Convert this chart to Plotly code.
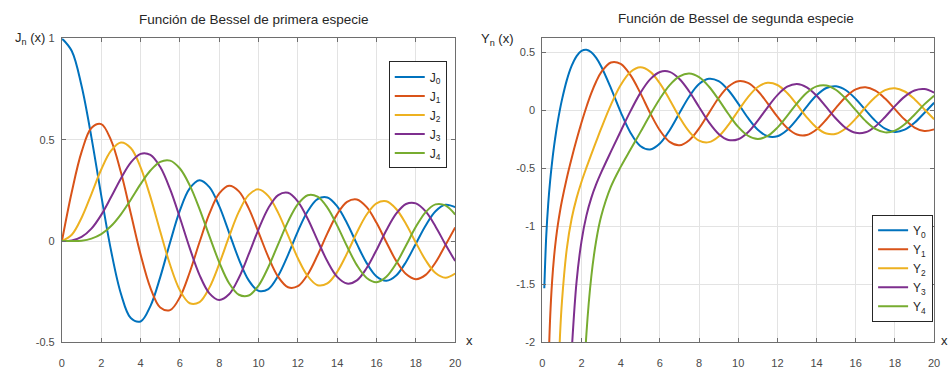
import plotly.graph_objects as go

# Bessel functions of the first kind, J_0 .. J_4, sampled every 0.5 on [0, 20]
x_j = [i * 0.5 for i in range(41)]
j0 = [1.000, 0.938, 0.765, 0.512, 0.224, -0.048, -0.260, -0.380, -0.397, -0.321,
      -0.178, -0.007, 0.151, 0.260, 0.300, 0.266, 0.172, 0.042, -0.090, -0.194,
      -0.246, -0.237, -0.171, -0.068, 0.048, 0.147, 0.207, 0.215, 0.171, 0.088,
      -0.014, -0.109, -0.175, -0.196, -0.170, -0.103, -0.013, 0.077, 0.147, 0.179, 0.167]
j1 = [0.000, 0.242, 0.440, 0.558, 0.577, 0.497, 0.339, 0.137, -0.066, -0.231,
      -0.328, -0.341, -0.277, -0.154, -0.005, 0.135, 0.235, 0.273, 0.245, 0.161,
      0.043, -0.079, -0.177, -0.228, -0.223, -0.165, -0.070, 0.038, 0.133, 0.193,
      0.205, 0.167, 0.090, -0.006, -0.098, -0.163, -0.188, -0.167, -0.106, -0.021, 0.067]
j2 = [0.000, 0.031, 0.115, 0.232, 0.353, 0.446, 0.486, 0.459, 0.364, 0.218,
      0.047, -0.117, -0.243, -0.307, -0.301, -0.230, -0.113, 0.022, 0.145, 0.228,
      0.255, 0.222, 0.139, 0.028, -0.085, -0.173, -0.218, -0.209, -0.152, -0.061,
      0.042, 0.131, 0.186, 0.196, 0.158, 0.084, -0.008, -0.095, -0.158, -0.181, -0.160]
j3 = [0.000, 0.003, 0.020, 0.061, 0.129, 0.217, 0.309, 0.387, 0.430, 0.425,
      0.365, 0.256, 0.115, -0.035, -0.168, -0.258, -0.291, -0.263, -0.181, -0.065,
      0.058, 0.163, 0.227, 0.238, 0.195, 0.110, 0.003, -0.100, -0.177, -0.210,
      -0.194, -0.133, -0.044, 0.053, 0.135, 0.183, 0.186, 0.146, 0.072, -0.016, -0.099]
j4 = [0.000, 0.000, 0.002, 0.012, 0.034, 0.074, 0.132, 0.204, 0.281, 0.348,
      0.391, 0.397, 0.358, 0.275, 0.158, 0.024, -0.105, -0.208, -0.265, -0.269,
      -0.220, -0.128, -0.015, 0.096, 0.182, 0.226, 0.219, 0.165, 0.076, -0.026,
      -0.119, -0.182, -0.203, -0.176, -0.111, -0.022, 0.070, 0.143, 0.181, 0.176, 0.131]

# Bessel functions of the second kind, Y_0 .. Y_4 (None = far below the axis)
x_y = ([0.1, 0.2, 0.3, 0.4, 0.5, 0.6, 0.7, 0.8, 0.9, 1.0,
        1.25, 1.5, 1.75, 2.0, 2.25, 2.5, 2.75, 3.0]
       + [3.5 + 0.5 * i for i in range(34)])
y0 = [-1.534, -1.081, -0.807, -0.606, -0.445, -0.309, -0.191, -0.087, 0.006, 0.088,
      0.258, 0.382, 0.465, 0.510, 0.520, 0.498, 0.449, 0.377,
      0.189, -0.017, -0.195, -0.309, -0.339, -0.288, -0.173, -0.026, 0.117, 0.224,
      0.270, 0.250, 0.171, 0.056, -0.068, -0.169, -0.225, -0.225, -0.171, -0.078,
      0.030, 0.127, 0.190, 0.205, 0.171, 0.096, 0.000, -0.093, -0.160, -0.188,
      -0.169, -0.110, -0.025, 0.063]
y1 = [None, None, -2.293, -1.781, -1.471, -1.260, -1.103, -0.978, -0.873, -0.781,
      -0.584, -0.412, -0.254, -0.107, 0.027, 0.146, 0.246, 0.325,
      0.410, 0.398, 0.301, 0.148, -0.024, -0.175, -0.274, -0.303, -0.259, -0.158,
      -0.026, 0.104, 0.203, 0.249, 0.234, 0.164, 0.058, -0.057, -0.154, -0.210,
      -0.214, -0.167, -0.081, 0.021, 0.115, 0.178, 0.196, 0.167, 0.099, 0.008,
      -0.082, -0.150, -0.180, -0.166]
y2 = [None, None, None, None, None, None, -2.961, -2.359, -1.946, -1.651,
      -1.193, -0.932, -0.756, -0.617, -0.496, -0.381, -0.270, -0.160,
      0.045, 0.216, 0.328, 0.368, 0.331, 0.230, 0.089, -0.061, -0.186, -0.263,
      -0.276, -0.227, -0.128, -0.006, 0.112, 0.199, 0.235, 0.216, 0.147, 0.046,
      -0.062, -0.151, -0.201, -0.203, -0.156, -0.074, 0.024, 0.112, 0.172, 0.188,
      0.160, 0.094, 0.007, -0.079]
y3 = [None, None, None, None, None, None, None, None, None, None,
      None, -2.074, -1.473, -1.128, -0.909, -0.756, -0.638, -0.539,
      -0.358, -0.182, -0.009, 0.146, 0.264, 0.328, 0.329, 0.268, 0.160, 0.027,
      -0.104, -0.205, -0.257, -0.251, -0.191, -0.091, 0.024, 0.129, 0.201, 0.224,
      0.196, 0.124, 0.025, -0.075, -0.155, -0.196, -0.191, -0.141, -0.059, 0.034,
      0.116, 0.169, 0.181, 0.150]
y4 = [None, None, None, None, None, None, None, None, None, None,
      None, None, None, -2.766, -1.928, -1.433, -1.123, -0.917,
      -0.660, -0.489, -0.340, -0.192, -0.042, 0.098, 0.215, 0.290, 0.314, 0.283,
      0.203, 0.090, -0.034, -0.145, -0.221, -0.249, -0.223, -0.151, -0.050, 0.058,
      0.149, 0.204, 0.212, 0.173, 0.096, 0.000, -0.093, -0.162, -0.192, -0.177,
      -0.122, -0.040, 0.049, 0.124]

j_series = [j0, j1, j2, j3, j4]
y_series = [y0, y1, y2, y3, y4]
j_names = ["J<sub>0</sub>", "J<sub>1</sub>", "J<sub>2</sub>", "J<sub>3</sub>", "J<sub>4</sub>"]
y_names = ["Y<sub>0</sub>", "Y<sub>1</sub>", "Y<sub>2</sub>", "Y<sub>3</sub>", "Y<sub>4</sub>"]
colors = ["#0072BD", "#D95319", "#EDB120", "#7E2F8E", "#77AC30"]

x_ticks = list(range(0, 21, 2))
j_ticks = [-0.5, 0, 0.5, 1]
j_ticktext = ["-0.5", "0", "0.5", "1"]
y_ticks = [-2, -1.5, -1, -0.5, 0, 0.5]
y_ticktext = ["-2", "-1.5", "-1", "-0.5", "0", "0.5"]

FONT = "Liberation Sans, Arial, sans-serif"
W, H = 950, 374

fig = go.Figure()
for vals, name, col in zip(j_series, j_names, colors):
    fig.add_trace(go.Scatter(x=x_j, y=vals, mode="lines", name=name,
                             line=dict(color=col, width=2, shape="spline", smoothing=1),
                             xaxis="x", yaxis="y", legend="legend"))
for vals, name, col in zip(y_series, y_names, colors):
    fig.add_trace(go.Scatter(x=x_y, y=vals, mode="lines", name=name,
                             line=dict(color=col, width=2, shape="spline", smoothing=1),
                             xaxis="x2", yaxis="y2", legend="legend2"))

axis_style = dict(showgrid=True, gridcolor="#e3e3e3", gridwidth=1, zeroline=False,
                  showline=True, linecolor="#6e6e6e", linewidth=1, mirror="ticks",
                  ticks="inside", ticklen=4, tickcolor="#6e6e6e",
                  tickfont=dict(family=FONT, size=11, color="#4a4a4a"))

legend_style = dict(bgcolor="white", bordercolor="#262626", borderwidth=1,
                    font=dict(family=FONT, size=12, color="#262626"),
                    tracegroupgap=0, itemwidth=30)

fig.update_layout(
    width=W, height=H, margin=dict(l=0, r=0, t=0, b=0),
    paper_bgcolor="white", plot_bgcolor="white",
    xaxis=dict(domain=[59.5 / W, 456.5 / W], range=[0, 20], tickvals=x_ticks,
               ticklabelstandoff=10, **axis_style),
    yaxis=dict(domain=[1 - 347.5 / H, 1 - 33.5 / H], range=[-0.5, 1],
               tickvals=j_ticks, ticktext=j_ticktext, ticklabelstandoff=4, **axis_style),
    xaxis2=dict(domain=[544.5 / W, 940 / W], range=[0, 20], tickvals=x_ticks,
                anchor="y2", ticklabelstandoff=10, **axis_style),
    yaxis2=dict(domain=[1 - 347.5 / H, 1 - 33.5 / H], range=[-2, 0.617],
                tickvals=y_ticks, ticktext=y_ticktext, anchor="x2",
                ticklabelstandoff=4, **axis_style),
    legend=dict(x=448 / W, xanchor="right", y=1 - 112.5 / H, yanchor="middle", **legend_style),
    legend2=dict(x=939 / W, xanchor="right", y=1 - 271 / H, yanchor="middle", **legend_style),
)

title_font = dict(family=FONT, size=13.5, color="#262626")
label_font = dict(family=FONT, size=13, color="#262626")
annotations = [
    dict(text="Función de Bessel de primera especie", x=253 / W, y=1 - 14 / H, font=title_font),
    dict(text="Función de Bessel de segunda especie", x=740 / W, y=1 - 13 / H, font=title_font),
    dict(text="J<sub>n</sub> (x)", x=27 / W, y=1 - 34 / H, font=label_font),
    dict(text="Y<sub>n</sub> (x)", x=499 / W, y=1 - 35 / H, font=label_font),
    dict(text="x", x=471 / W, y=1 - 346 / H, font=label_font),
    dict(text="x", x=951 / W, y=1 - 346 / H, font=label_font),
]
for a in annotations:
    fig.add_annotation(xref="paper", yref="paper", showarrow=False,
                       xanchor="center", yanchor="middle", **a)

fig.write_html("out.html")
